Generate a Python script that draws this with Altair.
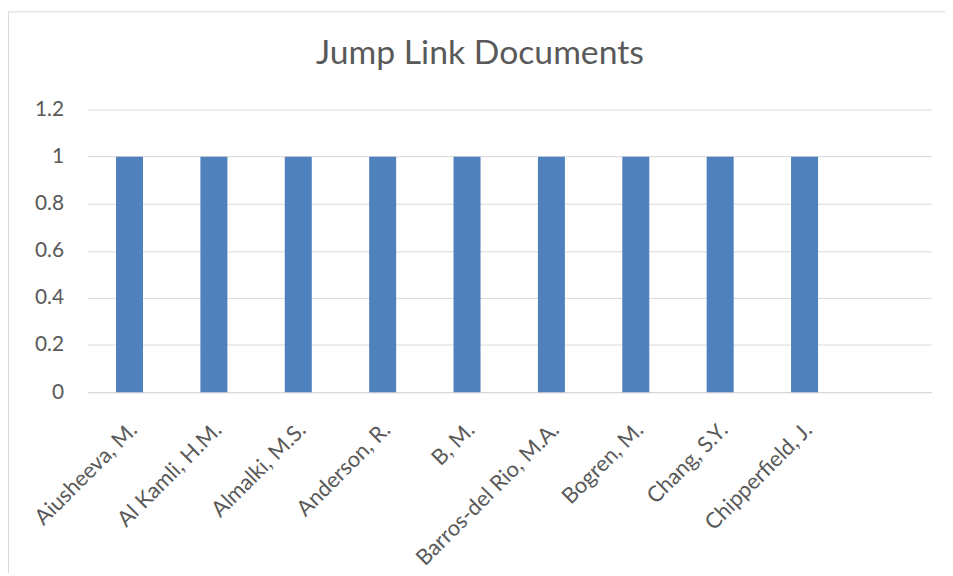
import altair as alt
import pandas as pd

authors = [
    "Aiusheeva, M.",
    "Al Kamli, H.M.",
    "Almalki, M.S.",
    "Anderson, R.",
    "B, M.",
    "Barros-del Rio, M.A.",
    "Bogren, M.",
    "Chang, S.Y.",
    "Chipperfield, J.",
]
documents = [1, 1, 1, 1, 1, 1, 1, 1, 1]
y_ticks = [0, 0.2, 0.4, 0.6, 0.8, 1.0, 1.2]
chart_title = "Jump Link Documents"

df = pd.DataFrame({"Author": authors, "Documents": documents})

W, H = 851, 285
FONT = "Lato"
TXT = "#595959"
GRID = "#d9d9d9"

frame = alt.Chart(pd.DataFrame({"k": [0]})).mark_rect(
    fill="transparent", stroke=GRID, strokeWidth=1
).encode(
    x=alt.value(-79.5), x2=alt.value(W + 40),
    y=alt.value(-98.5), y2=alt.value(H + 300),
)

bars = alt.Chart(df).mark_bar(color="#4f81bd").encode(
    x=alt.X(
        "Author:N",
        sort=authors,
        title=None,
        scale=alt.Scale(paddingInner=0.68, paddingOuter=0.84, align=0.2024),
        axis=alt.Axis(
            labelAngle=-45, labelAlign="right", labelBaseline="top",
            labelPadding=27, labelOffset=-3, labelLimit=1000,
            labelFont=FONT, labelFontSize=22, labelColor=TXT,
            ticks=False, domainColor=GRID, domainWidth=1.3,
            grid=False, labelOverlap=False,
        ),
    ),
    y=alt.Y(
        "Documents:Q",
        title=None,
        scale=alt.Scale(domain=[0, 1.2], nice=False),
        axis=alt.Axis(
            values=y_ticks, format="~g", domain=False, ticks=False,
            labelPadding=24, labelFont=FONT, labelFontSize=21,
            labelColor=TXT, gridColor=GRID, gridWidth=1,
        ),
    ),
)

title = alt.Chart(pd.DataFrame({"t": [chart_title]})).mark_text(
    font=FONT, fontSize=34, color=TXT, align="center", baseline="alphabetic"
).encode(
    text="t:N", x=alt.value(396), y=alt.value(-46),
)

chart = alt.layer(frame, bars, title).properties(
    width=W, height=H,
    autosize=alt.AutoSizeParams(type="none"),
    padding={"left": 80, "top": 100, "right": 14, "bottom": 180},
).configure_view(stroke=None)

chart.save("out.html", embed_options={"renderer": "svg", "actions": False})
